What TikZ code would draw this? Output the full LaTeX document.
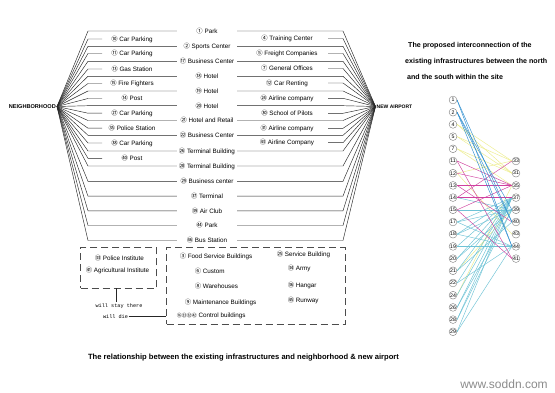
\documentclass[tikz,border=0pt]{standalone}
\usepackage{fontspec}
\setmainfont{Liberation Sans}
\newfontfamily\cjk{Noto Sans CJK SC}
\newfontfamily\monof{Liberation Mono}
\newcommand\cn[1]{{\cjk\ifnum#1<21 \symbol{\numexpr"245F+#1\relax}\else\ifnum#1<36 \symbol{\numexpr"323C+#1\relax}\else\symbol{\numexpr"328D+#1\relax}\fi\fi}}
\definecolor{cY}{HTML}{EDED8A}
\definecolor{cB}{HTML}{2F8FD0}
\definecolor{cM}{HTML}{D0409F}
\definecolor{cT}{HTML}{6EC3D6}
\begin{document}
\begin{tikzpicture}[x=1pt,y=-1pt,
  ln/.style={line width=0.45pt, draw=black!85},
  lab/.style={font=\fontsize{6.3}{7}\selectfont, inner sep=0.6pt},
  mid/.style={lab, minimum width=60pt},
  hub/.style={font=\fontsize{5.6}{6}\selectfont\bfseries, inner sep=0pt},
  ttl/.style={font=\fontsize{7.1}{8}\selectfont\bfseries, inner sep=0pt, anchor=west},
  dbox/.style={draw=black!70, line width=0.6pt, dash pattern=on 7pt off 4pt, inner sep=0pt},
  gnode/.style={circle, draw=black!55, fill=white, line width=0.35pt, inner sep=0pt, minimum size=7.8pt, font=\fontsize{5.2}{5}\selectfont},
  eY/.style={draw=cY, line width=0.45pt},
  eB/.style={draw=cB, line width=0.45pt},
  eM/.style={draw=cM, line width=0.45pt},
  eT/.style={draw=cT, line width=0.45pt},
  mono/.style={font=\monof\fontsize{5.2}{6}\selectfont, inner sep=0.5pt},
]
\useasboundingbox (0,0) rectangle (555,393);
\fill[white] (0,0) rectangle (555,393);

% hubs
\node[hub, anchor=east] (nbh) at (56,106.5) {NEIGHBORHOOD};
\coordinate (nb) at (57,106.5);
\node[hub, anchor=west, font=\fontsize{5.0}{6}\selectfont\bfseries] (nap) at (376.5,106.5) {NEW AIRPORT};
\coordinate (na) at (375.5,106.5);

% middle column (long lines)
\foreach \nn/\tx/\yy [count=\i] in {1/Park/31, 2/Sports Center/46.3, 17/Business Center/61.3,
  18/Hotel/76.3, 19/Hotel/91, 20/Hotel/105.7, 21/Hotel and Retail/120.5, 22/Business Center/135.3,
  26/Terminal Building/151, 28/Terminal Building/166, 29/Business center/181.3, 37/Terminal/196.2,
  39/Air Club/210.8, 44/Park/225.5, 46/Bus Station/240.5} {
  \coordinate (ml\i) at (88,\yy);
  \coordinate (mr\i) at (343,\yy);
  \node[mid] (m\i) at (207,\yy) {\cn{\nn} \tx};
  \draw[ln] (nb) -- (ml\i) -- (m\i.west);
  \draw[ln] (m\i.east) -- (mr\i) -- (na);
}

% left column
\foreach \nn/\tx/\yy [count=\i] in {10/Car Parking/39, 11/Car Parking/53.5, 13/Gas Station/69,
  15/Fire Fighters/83.5, 14/Post/98.5, 27/Car Parking/113.2, 35/Police Station/128.2,
  38/Car Parking/143, 40/Post/158.3} {
  \coordinate (la\i) at (88,\yy);
  \coordinate (lb\i) at (102,\yy);
  \node[lab] (l\i) at (132,\yy) {\cn{\nn} \tx};
  \draw[ln] (nb) -- (la\i) -- (lb\i);
}

% right column
\foreach \nn/\tx/\yy [count=\i] in {4/Training Center/38.5, 5/Freight Companies/53.5,
  7/General Offices/68.5, 12/Car Renting/83, 24/Airline company/98.3, 30/School of Pilots/113.3,
  31/Airline company/128.3, 43/Airline Company/142.7} {
  \coordinate (ra\i) at (328,\yy);
  \coordinate (rb\i) at (343,\yy);
  \node[lab] (r\i) at (287,\yy) {\cn{\nn} \tx};
  \draw[ln] (ra\i) -- (rb\i) -- (na);
}

% dashed boxes
\node[dbox, minimum width=76pt, minimum height=40.6pt] (b1) at (118.7,268) {};
\node[dbox, minimum width=178.3pt, minimum height=76.6pt] (b2) at (255.85,286) {};
\node[lab, anchor=west] (pi) at (94,257.7) {\cn{33} Police Institute};
\node[lab, anchor=west] (ai) at (85,270) {\cn{41} Agricultural Institute};
\node[mono] (ws) at (119,306.3) {will stay there};
\node[mono] (wd) at (115.5,316.3) {will die};
\coordinate (vt) at (116,288.3);
\coordinate (vb) at (116,302.5);
\draw[ln] (vt) -- (vb);
\draw[ln] (wd.east) -- (wd.east -| b2.west);

\node[lab, anchor=west] (fs) at (179,256) {\cn{3} Food Service Buildings};
\node[lab, anchor=west] (cu) at (194,270.7) {\cn{6} Custom};
\node[lab, anchor=west] (wh) at (194,286) {\cn{8} Warehouses};
\node[lab, anchor=west] (mb) at (184,302.7) {\cn{9} Maintenance Buildings};
\node[lab, anchor=west] (cb) at (176,315.5) {{\fontsize{5}{6}\selectfont\cn{16}\cn{23}\cn{32}\cn{42}} Control buildings};
\node[lab, anchor=west] (sb) at (276,254) {\cn{25} Service Building};
\node[lab, anchor=west] (ar) at (287,268.3) {\cn{34} Army};
\node[lab, anchor=west] (hg) at (287,285) {\cn{36} Hangar};
\node[lab, anchor=west] (rw) at (287,300) {\cn{45} Runway};

% titles
\node[ttl] (t1) at (408,45.7) {The proposed interconnection of the};
\node[ttl] (t2) at (405,62) {existing infrastructures between the north};
\node[ttl] (t3) at (407,76.7) {and the south within the site};
\node[ttl, anchor=center, font=\fontsize{7.6}{8}\selectfont\bfseries] (cap) at (243.5,357.3) {The relationship between the existing infrastructures and neighborhood \& new airport};
\node[font=\fontsize{12}{12}\selectfont, text=black!45, inner sep=0pt] (wm) at (504,384) {www.soddn.com};

% graph nodes
\foreach \nn [count=\k from 0] in {1,2,4,5,7,11,12,13,14,15,17,18,19,20,21,22,24,26,28,29}
  \node[gnode] (n\nn) at (453,{100+12.2*\k}) {\nn};
\foreach \nn [count=\k from 5] in {33,31,35,37,39,40,43,44,41}
  \node[gnode] (s\nn) at (516,{100+12.2*\k}) {\nn};

% graph edges
\foreach \a/\b in {4/33,4/31,5/33,5/31,7/31,7/35,12/33,12/43,24/35,21/39}
  \draw[eY] (n\a.east) -- (s\b.west);
\foreach \a/\b in {14/39,15/39,17/37,17/39,17/44,18/37,18/39,18/44,19/37,19/44,20/37,20/39,21/37,21/40,22/37,22/44,24/37,26/37,26/39,28/37,28/39,29/37,29/44}
  \draw[eT] (n\a.east) -- (s\b.west);
\foreach \a/\b in {11/35,11/41,13/35,13/40,14/33,14/37,15/35,15/41,12/35}
  \draw[eM] (n\a.east) -- (s\b.west);
\foreach \a/\b in {1/40,1/44,2/39,2/40,2/44}
  \draw[eB] (n\a.east) -- (s\b.west);
\end{tikzpicture}
\end{document}
